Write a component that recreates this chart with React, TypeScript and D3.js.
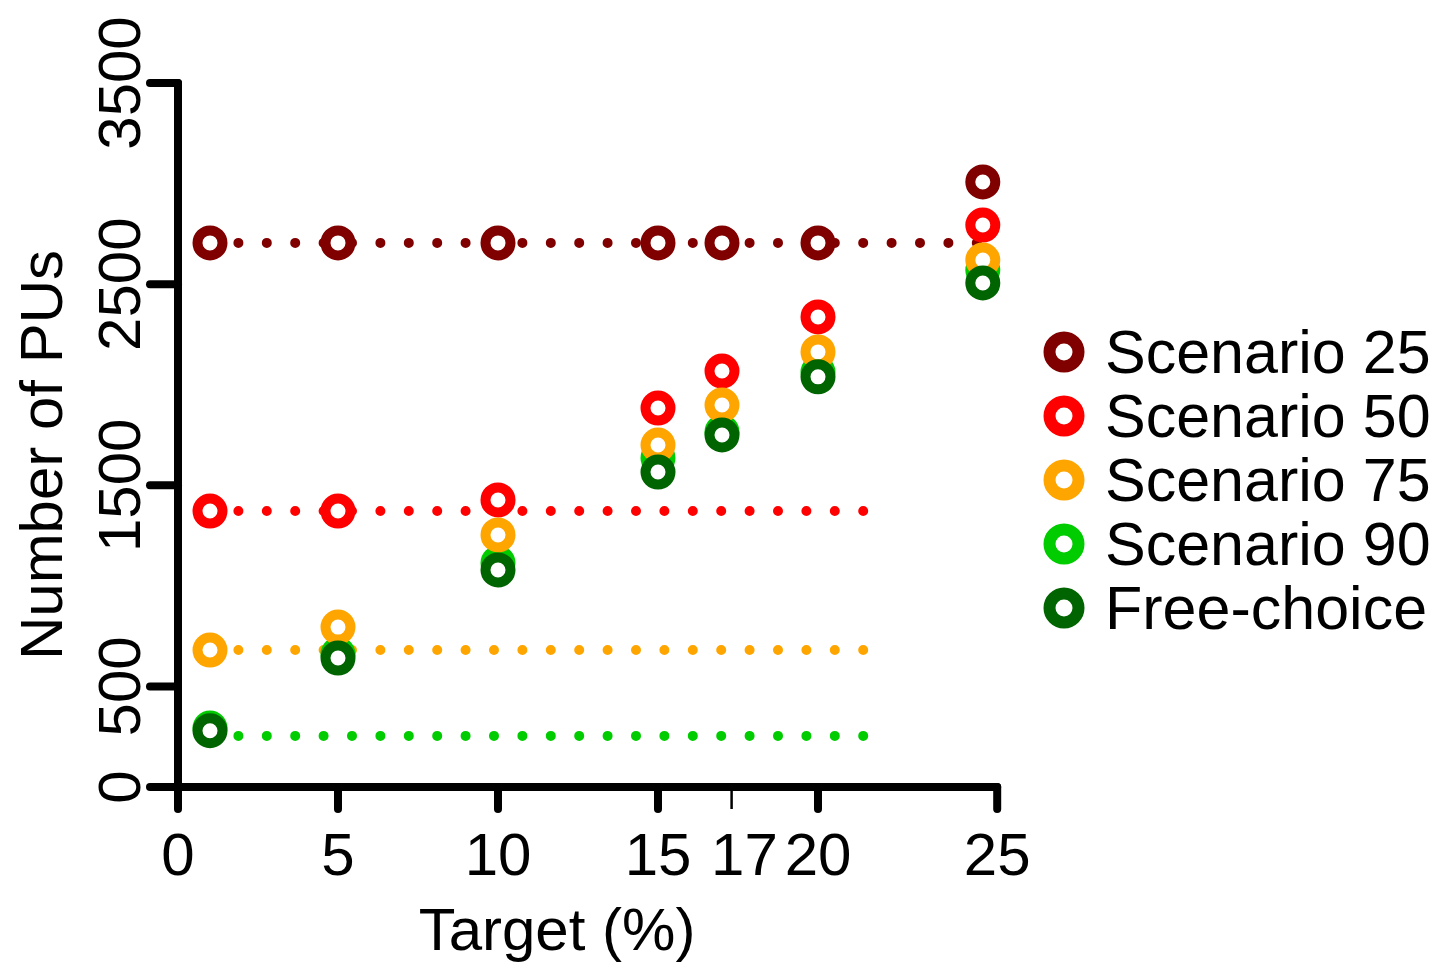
import React from "react";
import * as d3 from "d3";

// target (%) positions of the points
const targets = [1, 5, 10, 15, 17, 20, 25.15];

const scenario25 = [2705, 2705, 2705, 2705, 2705, 2705, 3008];
const scenario50 = [1372, 1372, 1427, 1884, 2068, 2337, 2794];
const scenario75 = [681, 795, 1253, 1700, 1899, 2163, 2620];
const scenario90 = [293, 661, 1114, 1636, 1765, 2063, 2570];
const freeChoice = [280, 641, 1079, 1566, 1750, 2039, 2506];

// dotted reference lines (value, from, to)
const refLines = [
  { name: "Scenario 25", value: 2705, from: 1, to: 25.4 },
  { name: "Scenario 50", value: 1372, from: 1, to: 22 },
  { name: "Scenario 75", value: 681, from: 1, to: 22 },
  { name: "Scenario 90", value: 254, from: 1, to: 22 },
];

const xTickPos = [0, 5, 10, 15, 17.3, 20, 25.6];
const xTickLabelPos = [0, 5, 10, 15, 17.7, 20, 25.6];
const xTickLabels = ["0", "5", "10", "15", "17", "20", "25"];
const yTicks = [0, 500, 1500, 2500, 3500];

const seriesNames = ["Scenario 25", "Scenario 50", "Scenario 75", "Scenario 90", "Free-choice"];
const seriesValues = [scenario25, scenario50, scenario75, scenario90, freeChoice];
const colors = ["#800000", "#ff0000", "#ffa500", "#00cc00", "#006400"];
// drawing order of the point series
const drawOrder = [3, 0, 1, 2, 4];

const font = "'Liberation Sans', Arial, sans-serif";

const App = () => {
  const x = d3.scaleLinear().domain([0, 25]).range([178, 978]);
  const y = d3.scaleLinear().domain([0, 3500]).range([787, 83]);
  const color = d3.scaleOrdinal<string, string>().domain(seriesNames).range(colors);
  const line = d3
    .line<[number, number]>()
    .x(d => x(d[0]))
    .y(d => y(d[1]));

  return (
    <svg
      width={1452}
      height={966}
      style={{ position: "absolute", left: 0, top: 0, background: "#fff" }}
      fontFamily={font}
    >
      {/* dotted lines */}
      {refLines.map(r => (
        <path
          key={r.name}
          d={line([[r.from, r.value], [r.to, r.value]]) || ""}
          stroke={color(r.name)}
          strokeWidth={10}
          strokeLinecap="round"
          strokeDasharray="0 28.4"
          fill="none"
        />
      ))}

      {/* points */}
      {drawOrder.map(si => (
        <g key={seriesNames[si]}>
          {seriesValues[si].map((v, i) => (
            <circle
              key={i}
              cx={x(targets[i])}
              cy={y(v)}
              r={12.5}
              fill="#fff"
              stroke={color(seriesNames[si])}
              strokeWidth={10}
            />
          ))}
        </g>
      ))}

      {/* y axis */}
      <g stroke="#000" strokeLinecap="round">
        <line x1={x(0)} x2={x(0)} y1={y(3500)} y2={y(0)} strokeWidth={8} />
        {yTicks.map(t => (
          <line key={t} x1={x(0) - 28} x2={x(0)} y1={y(t)} y2={y(t)} strokeWidth={8} />
        ))}
      </g>
      {yTicks.map(t => (
        <text
          key={t}
          transform={`translate(140,${y(t)}) rotate(-90)`}
          textAnchor="middle"
          fontSize={60}
        >
          {t}
        </text>
      ))}
      <text transform={`translate(62,455) rotate(-90)`} textAnchor="middle" fontSize={60}>
        Number of PUs
      </text>

      {/* x axis */}
      <g stroke="#000" strokeLinecap="round">
        <line x1={x(0)} x2={x(25.6)} y1={y(0)} y2={y(0)} strokeWidth={8} />
        {xTickPos.map((t, i) => (
          <line
            key={i}
            x1={x(t)}
            x2={x(t)}
            y1={y(0)}
            y2={y(0) + 22}
            strokeWidth={xTickLabels[i] === "17" ? 2.5 : 8}
            strokeLinecap={xTickLabels[i] === "17" ? "butt" : "round"}
          />
        ))}
      </g>
      {xTickLabelPos.map((t, i) => (
        <text key={i} x={x(t)} y={875} textAnchor="middle" fontSize={60}>
          {xTickLabels[i]}
        </text>
      ))}
      <text x={557} y={950} textAnchor="middle" fontSize={60}>
        Target (%)
      </text>

      {/* legend */}
      {seriesNames.map((n, i) => (
        <g key={n} transform={`translate(1064,${352 + i * 64})`}>
          <circle r={14.5} fill="#fff" stroke={color(n)} strokeWidth={12} />
          <text x={41} y={21} fontSize={61}>
            {n}
          </text>
        </g>
      ))}
    </svg>
  );
};

export default App;
